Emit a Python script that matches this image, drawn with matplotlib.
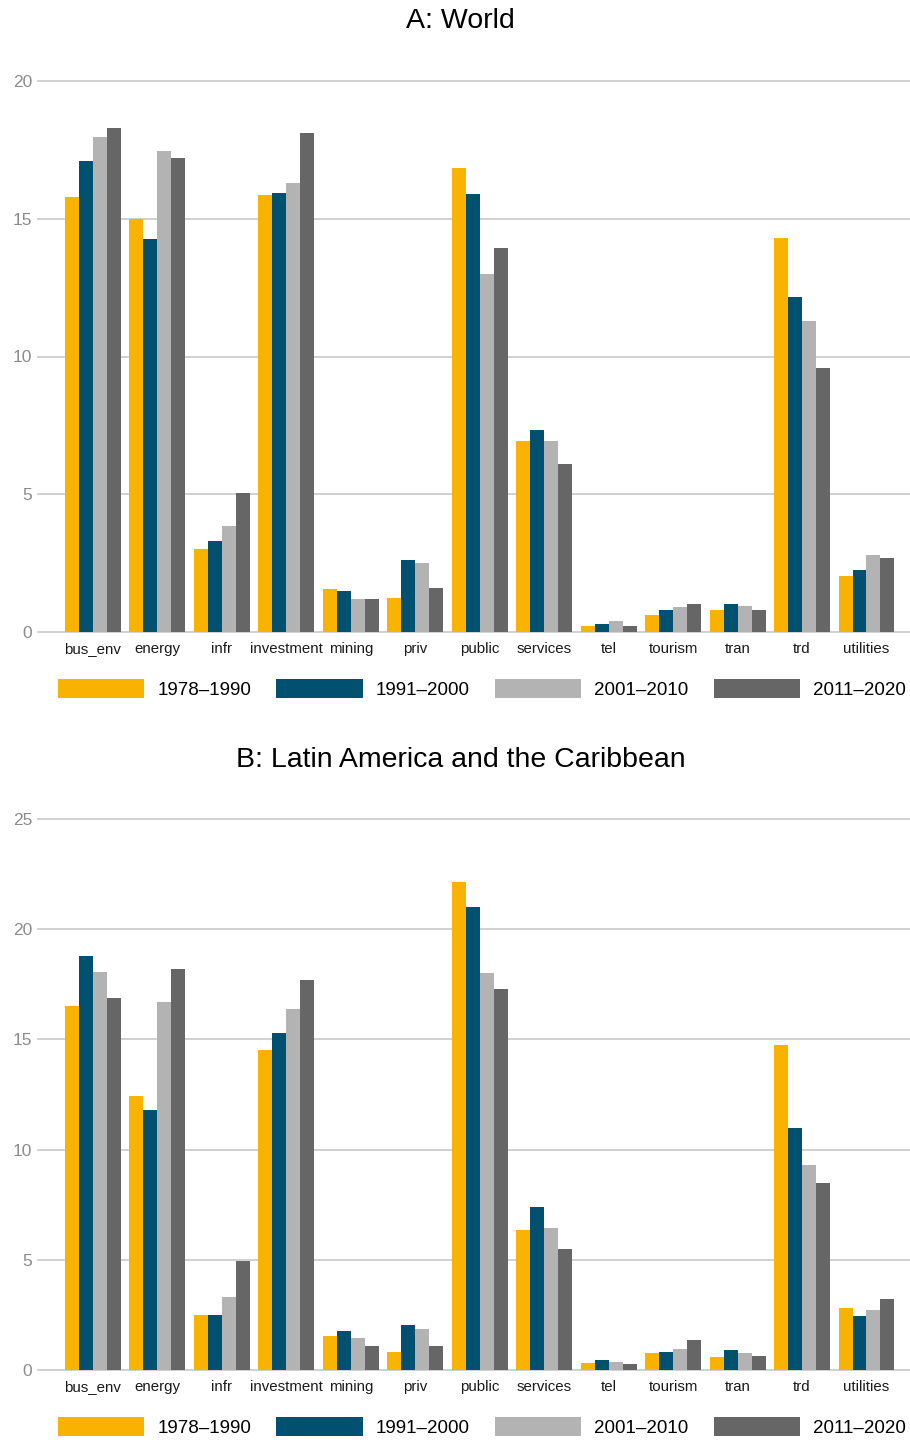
import numpy as np
import matplotlib.pyplot as plt
from matplotlib.patches import Patch

plt.rcParams['font.family'] = ['Liberation Sans', 'DejaVu Sans']

sectors = ["bus_env", "energy", "infr", "investment", "mining", "priv", "public",
           "services", "tel", "tourism", "tran", "trd", "utilities"]
periods = ["1978\u20131990", "1991\u20132000", "2001\u20132010", "2011\u20132020"]
colors = ["#FAB200", "#02506F", "#B3B3B3", "#666666"]

# Panel A: World, one list per period
world_7890 = [15.8, 15.0, 3.0, 15.85, 1.55, 1.25, 16.85, 6.95, 0.2, 0.6, 0.8, 14.3, 2.05]
world_9100 = [17.1, 14.25, 3.3, 15.95, 1.5, 2.6, 15.9, 7.35, 0.3, 0.8, 1.0, 12.15, 2.25]
world_0110 = [17.95, 17.45, 3.85, 16.3, 1.2, 2.5, 13.0, 6.95, 0.4, 0.9, 0.95, 11.3, 2.8]
world_1120 = [18.3, 17.2, 5.05, 18.1, 1.2, 1.6, 13.95, 6.1, 0.2, 1.0, 0.8, 9.6, 2.7]

# Panel B: Latin America and the Caribbean
lac_7890 = [16.5, 12.45, 2.5, 14.5, 1.55, 0.8, 22.15, 6.35, 0.3, 0.75, 0.6, 14.75, 2.8]
lac_9100 = [18.8, 11.8, 2.5, 15.3, 1.75, 2.05, 21.0, 7.4, 0.45, 0.8, 0.9, 11.0, 2.45]
lac_0110 = [18.05, 16.7, 3.3, 16.4, 1.45, 1.85, 18.0, 6.45, 0.35, 0.95, 0.75, 9.3, 2.7]
lac_1120 = [16.9, 18.2, 4.95, 17.7, 1.1, 1.1, 17.3, 5.5, 0.25, 1.35, 0.65, 8.5, 3.2]

world = [world_7890, world_9100, world_0110, world_1120]
lac = [lac_7890, lac_9100, lac_0110, lac_1120]


def draw_panel(ax, series, ymax):
    x = np.arange(len(sectors))
    w = 0.217
    for i, vals in enumerate(series):
        ax.bar(x + (i - 1.5) * w, vals, width=w, color=colors[i], zorder=3, linewidth=0)
    ax.set_xlim(-0.853, len(sectors) - 1 + 0.675)
    ax.set_ylim(0, ymax)
    ax.set_yticks(np.arange(0, ymax + 1, 5))
    ax.yaxis.grid(True, color="#C8C8C8", linewidth=1.2, zorder=0)
    for gl in ax.get_ygridlines():
        gl.set_clip_on(False)
    ax.set_axisbelow(True)
    for s in ax.spines.values():
        s.set_visible(False)
    ax.tick_params(axis="both", length=0)
    ax.tick_params(axis="y", labelsize=12.5, labelcolor="#8C8C8C", pad=4)
    ax.tick_params(axis="x", labelsize=10.8, labelcolor="#1A1A1A", pad=7)
    ax.set_xticks(x)
    ax.set_xticklabels(sectors)


fig = plt.figure(figsize=(9.1, 14.4), dpi=100)

ax1 = fig.add_axes([38 / 910, 1 - 632 / 1440, 1 - 38 / 910, 551 / 1440])
draw_panel(ax1, world, 20)
ax2 = fig.add_axes([38 / 910, 1 - 1370 / 1440, 1 - 38 / 910, 551 / 1440])
draw_panel(ax2, lac, 25)

fig.text(0.506, 1 - 21 / 1440, "A: World", ha="center", va="center", fontsize=20.5)
fig.text(0.506, 1 - 760 / 1440, "B: Latin America and the Caribbean",
         ha="center", va="center", fontsize=20.5)

handles = [Patch(facecolor=c, edgecolor="none") for c in colors]
for yc in (1 - 689 / 1440, 1 - 1427 / 1440):
    fig.legend(handles, periods, loc="center", bbox_to_anchor=(482 / 910, yc),
               ncol=4, frameon=False, fontsize=13.5, handlelength=4.6,
               handleheight=1.2, handletextpad=0.7, columnspacing=1.35,
               borderpad=0, borderaxespad=0)

fig.savefig("out.png", dpi=100)
